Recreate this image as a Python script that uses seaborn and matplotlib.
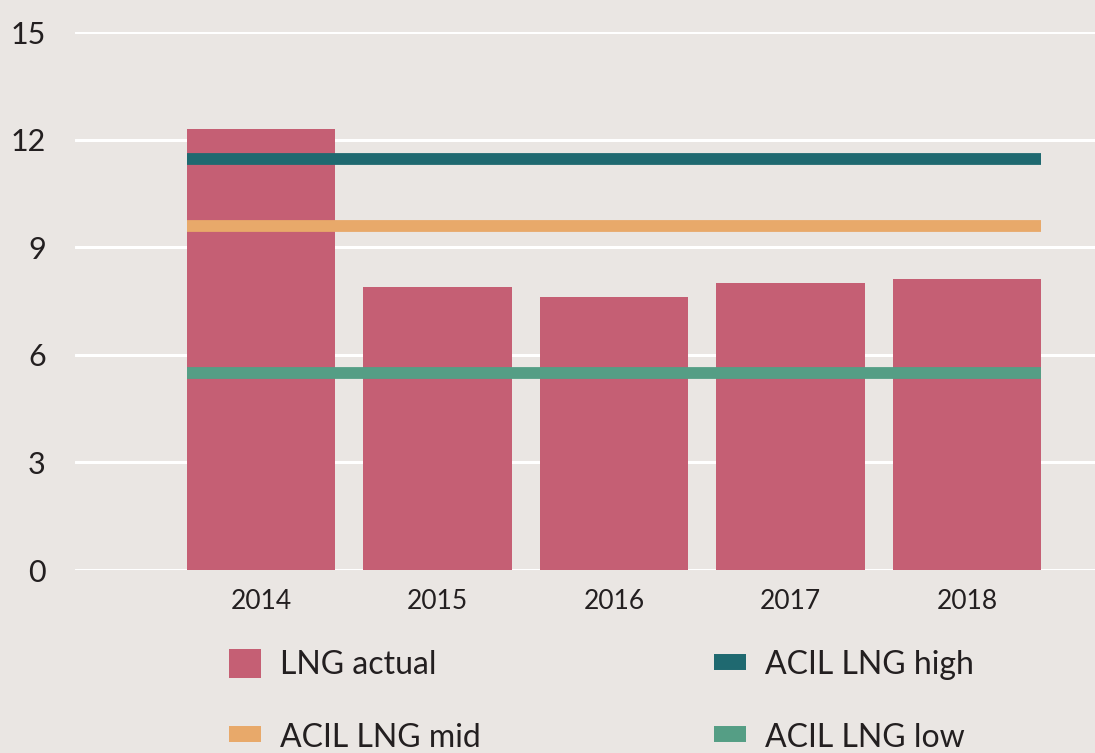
import matplotlib
matplotlib.use("Agg")
import matplotlib.pyplot as plt
import seaborn as sns
import pandas as pd
from matplotlib.patches import Patch
from matplotlib.lines import Line2D

# data
years = ["2014", "2015", "2016", "2017", "2018"]
lng_actual = [12.3, 7.9, 7.6, 8.0, 8.1]
acil_high = 11.45
acil_mid = 9.6
acil_low = 5.5

bg = "#EAE6E3"
c_actual = "#C55F74"
c_high = "#1F6970"
c_mid = "#E8A96A"
c_low = "#559E85"
txt = "#231F20"

sns.set_style("white")
plt.rcParams['font.family'] = ['Lato', 'DejaVu Sans']

df = pd.DataFrame({"year": years, "value": lng_actual})

fig = plt.figure(figsize=(10.95, 7.53), dpi=100, facecolor=bg)
ax = fig.add_axes([0.0685, 0.243, 0.9315, 0.7145])
ax.set_facecolor(bg)

bar_w = 0.84
sns.barplot(data=df, x="year", y="value", order=years, color=c_actual,
            width=bar_w, saturation=1, linewidth=0, ax=ax, zorder=2)

x0 = -bar_w / 2
x1 = len(years) - 1 + bar_w / 2
ax.hlines(acil_high, x0, x1, color=c_high, lw=8.5, zorder=3)
ax.hlines(acil_mid, x0, x1, color=c_mid, lw=8.5, zorder=3)
ax.hlines(acil_low, x0, x1, color=c_low, lw=8.5, zorder=3)

ax.set_ylim(0, 15)
ax.set_xlim(-1.054, 4.725)
ax.set_yticks([0, 3, 6, 9, 12, 15])
ax.yaxis.grid(True, color="white", lw=2.2, zorder=0)
ax.set_axisbelow(True)
for s in ax.spines.values():
    s.set_visible(False)
ax.set_xlabel("")
ax.set_ylabel("")
ax.tick_params(axis="y", length=0, pad=21, labelsize=22, labelcolor=txt)
ax.tick_params(axis="x", length=0, pad=14, labelsize=19, labelcolor=txt)
for t in ax.get_yticklabels():
    t.set_horizontalalignment("right")

handles = [
    Patch(facecolor=c_actual, edgecolor="none", label="LNG actual"),
    Line2D([], [], color=c_mid, lw=11.5, solid_capstyle="butt", label="ACIL LNG mid"),
    Line2D([], [], color=c_high, lw=11.5, solid_capstyle="butt", label="ACIL LNG high"),
    Line2D([], [], color=c_low, lw=11.5, solid_capstyle="butt", label="ACIL LNG low"),
]
leg = fig.legend(handles=handles, ncol=2, loc="upper left",
                 bbox_to_anchor=(0.209, 0.138), frameon=False,
                 fontsize=23, handlelength=1.0, handleheight=1.0,
                 handletextpad=0.6, columnspacing=7.3, labelspacing=1.3,
                 borderaxespad=0, borderpad=0)
for t in leg.get_texts():
    t.set_color(txt)

fig.savefig("out.png", dpi=100, facecolor=bg)
